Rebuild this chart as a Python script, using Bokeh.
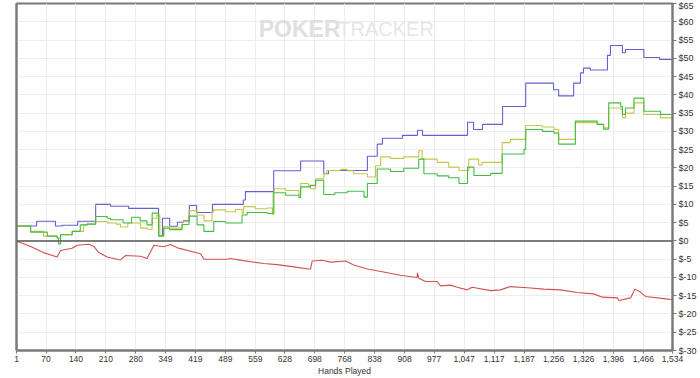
import math
from bokeh.plotting import figure
from bokeh.models import Range1d, FixedTicker, Span, Label, LinearAxis
from bokeh.embed import file_html
from bokeh.resources import INLINE

# ---- data (hands played, cumulative $) ----
blue_hands = [1, 48, 92, 108, 144, 186, 221, 263, 333, 342, 359, 377, 391, 405, 422, 459, 531, 536,
              602, 665, 719, 730, 821, 844, 856, 903, 938, 950, 1055, 1069, 1090, 1137, 1191, 1256,
              1268, 1303, 1319, 1326, 1342, 1382, 1389, 1417, 1424, 1467, 1504, 1534]
blue_net = [4.1, 5.4, 4.1, 4.3, 5.4, 10.0, 9.5, 8.9, 1.4, 6.2, 4.0, 5.1, 5.5, 9.7, 7.8, 10.0, 11.2, 13.5,
            19.2, 21.9, 18.4, 19.3, 23.2, 26.5, 28.1, 28.9, 30.3, 28.9, 32.5, 30.5, 31.9, 36.8, 43.2, 41.4,
            39.7, 43.2, 46.0, 47.3, 46.8, 50.8, 53.5, 51.5, 52.4, 50.2, 49.7, 49.7]

yellow_hands = [1, 34, 64, 96, 104, 131, 158, 166, 186, 213, 234, 244, 261, 291, 306, 318, 329, 336,
                345, 359, 388, 404, 423, 439, 458, 462, 490, 513, 528, 532, 559, 587, 599, 603, 630,
                661, 665, 683, 688, 700, 719, 726, 758, 774, 789, 821, 840, 852, 875, 906, 941, 949,
                984, 1011, 1035, 1058, 1081, 1089, 1136, 1155, 1191, 1230, 1257, 1268, 1307, 1358,
                1373, 1385, 1413, 1417, 1424, 1444, 1467, 1506, 1534]
yellow_net = [4.1, 2.6, 1.3, 0.8, 1.7, 2.6, 4.4, 4.6, 5.3, 4.9, 4.6, 3.8, 4.9, 3.5, 3.2, 6.2, 7.1, 1.4,
              4.0, 3.5, 5.3, 8.3, 7.1, 5.5, 8.0, 8.5, 8.0, 8.6, 7.6, 9.4, 8.8, 9.0, 7.3, 14.3, 13.8,
              12.7, 15.7, 15.2, 14.3, 17.0, 18.4, 19.3, 19.6, 19.2, 18.4, 17.5, 20.6, 23.0, 22.6, 23.0,
              24.7, 22.4, 21.5, 20.2, 19.3, 22.4, 20.8, 21.5, 26.9, 27.8, 31.6, 31.2, 30.5, 27.8,
              32.4, 31.9, 31.0, 36.4, 36.0, 33.7, 35.0, 37.8, 34.6, 33.7, 32.8]

green_hands = [1, 34, 73, 96, 99, 104, 131, 150, 166, 186, 213, 221, 250, 270, 290, 306, 318, 333,
               345, 359, 388, 404, 423, 439, 462, 490, 528, 540, 587, 601, 630, 661, 665, 688, 700,
               719, 745, 774, 813, 821, 844, 875, 906, 941, 953, 984, 1011, 1035, 1055, 1070, 1109,
               1136, 1187, 1191, 1230, 1257, 1268, 1307, 1358, 1373, 1385, 1413, 1417, 1424, 1444,
               1467, 1506, 1534]
green_net = [4.1, 2.4, 1.3, 0.8, -0.8, 1.7, 2.6, 4.4, 4.6, 6.7, 6.2, 5.8, 4.9, 6.5, 5.5, 4.4, 7.6, 1.3,
             3.5, 3.1, 4.5, 6.8, 4.4, 2.6, 5.3, 4.9, 7.1, 7.8, 7.5, 13.2, 12.5, 11.8, 14.8, 15.2, 16.6,
             12.7, 13.2, 13.6, 12.0, 15.7, 19.7, 19.0, 19.9, 22.4, 18.4, 17.8, 17.3, 15.7, 20.2, 17.9,
             18.5, 23.8, 25.1, 30.5, 30.0, 29.5, 26.5, 32.8, 31.9, 30.6, 37.8, 36.8, 34.6, 36.4,
             39.1, 35.5, 34.6, 34.0]

red_hands = [1, 34, 64, 96, 104, 131, 143, 170, 182, 193, 213, 244, 256, 291, 306, 322, 345, 361, 377,
             431, 439, 493, 501, 531, 579, 610, 649, 683, 688, 692, 715, 735, 770, 789, 821, 859, 898,
             937, 938, 941, 957, 984, 992, 1015, 1031, 1054, 1066, 1109, 1132, 1155, 1195, 1233, 1272,
             1311, 1350, 1370, 1405, 1409, 1436, 1446, 1459, 1471, 1514, 1534]
red_net = [0.0, -1.5, -3.2, -4.4, -2.6, -2.0, -1.2, -0.9, -1.5, -3.2, -4.4, -5.2, -4.0, -4.2, -4.8,
           -1.2, -1.6, -1.0, -1.9, -3.5, -5.0, -5.0, -4.8, -5.4, -6.2, -6.5, -7.1, -7.7, -7.7, -5.5,
           -5.3, -5.8, -5.5, -6.6, -7.7, -8.5, -9.4, -10.0, -8.7, -10.2, -11.1, -11.1, -12.3, -12.1,
           -12.7, -13.4, -12.7, -13.6, -13.4, -12.5, -12.8, -13.2, -13.4, -14.1, -14.5, -15.4, -15.6,
           -16.3, -15.6, -13.2, -14.0, -15.2, -15.8, -16.1]

x_ticks = [1, 70, 140, 210, 280, 349, 419, 489, 559, 628, 698, 768, 838, 908, 977, 1047, 1117,
           1187, 1256, 1326, 1396, 1466, 1534]
y_ticks = list(range(-30, 70, 5))

FONT = "Liberation Sans"
AXIS_GREY = "#7a7a7a"
TEXT = "#333333"

p = figure(width=700, height=378, output_backend="svg", toolbar_location=None,
           x_range=Range1d(1, 1534), y_range=Range1d(-30, 65),
           y_axis_location="right",
           min_border_left=16, min_border_right=28, min_border_top=3, min_border_bottom=26,
           background_fill_color="white", border_fill_color="white")

p.outline_line_color = AXIS_GREY
p.outline_line_width = 2

# grid
p.xgrid.ticker = FixedTicker(ticks=x_ticks)
p.ygrid.ticker = FixedTicker(ticks=y_ticks)
p.grid.grid_line_color = "#ededed"
p.grid.grid_line_width = 1

# bottom axis
xa = p.xaxis[0]
xa.ticker = FixedTicker(ticks=x_ticks)
xa.major_label_overrides = {t: f"{t:,}" for t in x_ticks}
xa.axis_label = "Hands Played"
xa.axis_label_text_font = FONT
xa.axis_label_text_font_style = "normal"
xa.axis_label_text_font_size = "8.5px"
xa.axis_label_text_color = TEXT
xa.axis_label_standoff = 1
xa.major_label_text_font = FONT
xa.major_label_text_font_size = "8.5px"
xa.major_label_text_color = TEXT
xa.major_label_standoff = 2
xa.major_tick_out = 3
xa.major_tick_in = 0
xa.minor_tick_line_color = None
xa.axis_line_color = AXIS_GREY
xa.axis_line_width = 2
xa.major_tick_line_color = AXIS_GREY

# right axis
ya = p.yaxis[0]
ya.ticker = FixedTicker(ticks=y_ticks)
ya.major_label_overrides = {t: f"${t}" for t in y_ticks}
ya.major_label_text_font = FONT
ya.major_label_text_font_size = "9px"
ya.major_label_text_color = TEXT
ya.major_label_standoff = 2
ya.major_tick_out = 4
ya.major_tick_in = 0
ya.minor_tick_line_color = None
ya.axis_line_color = AXIS_GREY
ya.axis_line_width = 2
ya.major_tick_line_color = AXIS_GREY

# right axis title "$" drawn just outside the frame
p.add_layout(Label(x=1585, y=17.5, text="$", text_font=FONT, text_font_size="6.5px",
                   text_color=TEXT, text_align="center", text_baseline="middle",
                   angle=-math.pi / 2))

# left axis line only
la = LinearAxis(ticker=FixedTicker(ticks=[]), major_label_text_font_size="0px",
                major_tick_line_color=None, minor_tick_line_color=None,
                axis_line_color=AXIS_GREY, axis_line_width=2)
p.add_layout(la, "left")

# watermark
p.add_layout(Label(x=567, y=58, text="POKER", text_font=FONT, text_font_style="bold",
                   text_font_size="23px", text_color="#e0e0e0", text_baseline="middle",
                   text_align="left"))
p.add_layout(Label(x=753, y=58, text="TRACKER", text_font=FONT, text_font_style="normal",
                   text_font_size="20px", text_color="#e6e6e6", text_baseline="middle",
                   text_align="left"))

# zero line
p.add_layout(Span(location=0, dimension="width", line_color="#555555", line_width=1.5))

# series
p.step(blue_hands, blue_net, mode="after", line_color="#6262d4", line_width=1.1)
p.step(yellow_hands, yellow_net, mode="after", line_color="#c6c64a", line_width=1.1)
p.step(green_hands, green_net, mode="after", line_color="#45bb45", line_width=1.1)
p.line(red_hands, red_net, line_color="#cf5252", line_width=1.1)

open("out.html", "w").write(file_html(p, INLINE))
